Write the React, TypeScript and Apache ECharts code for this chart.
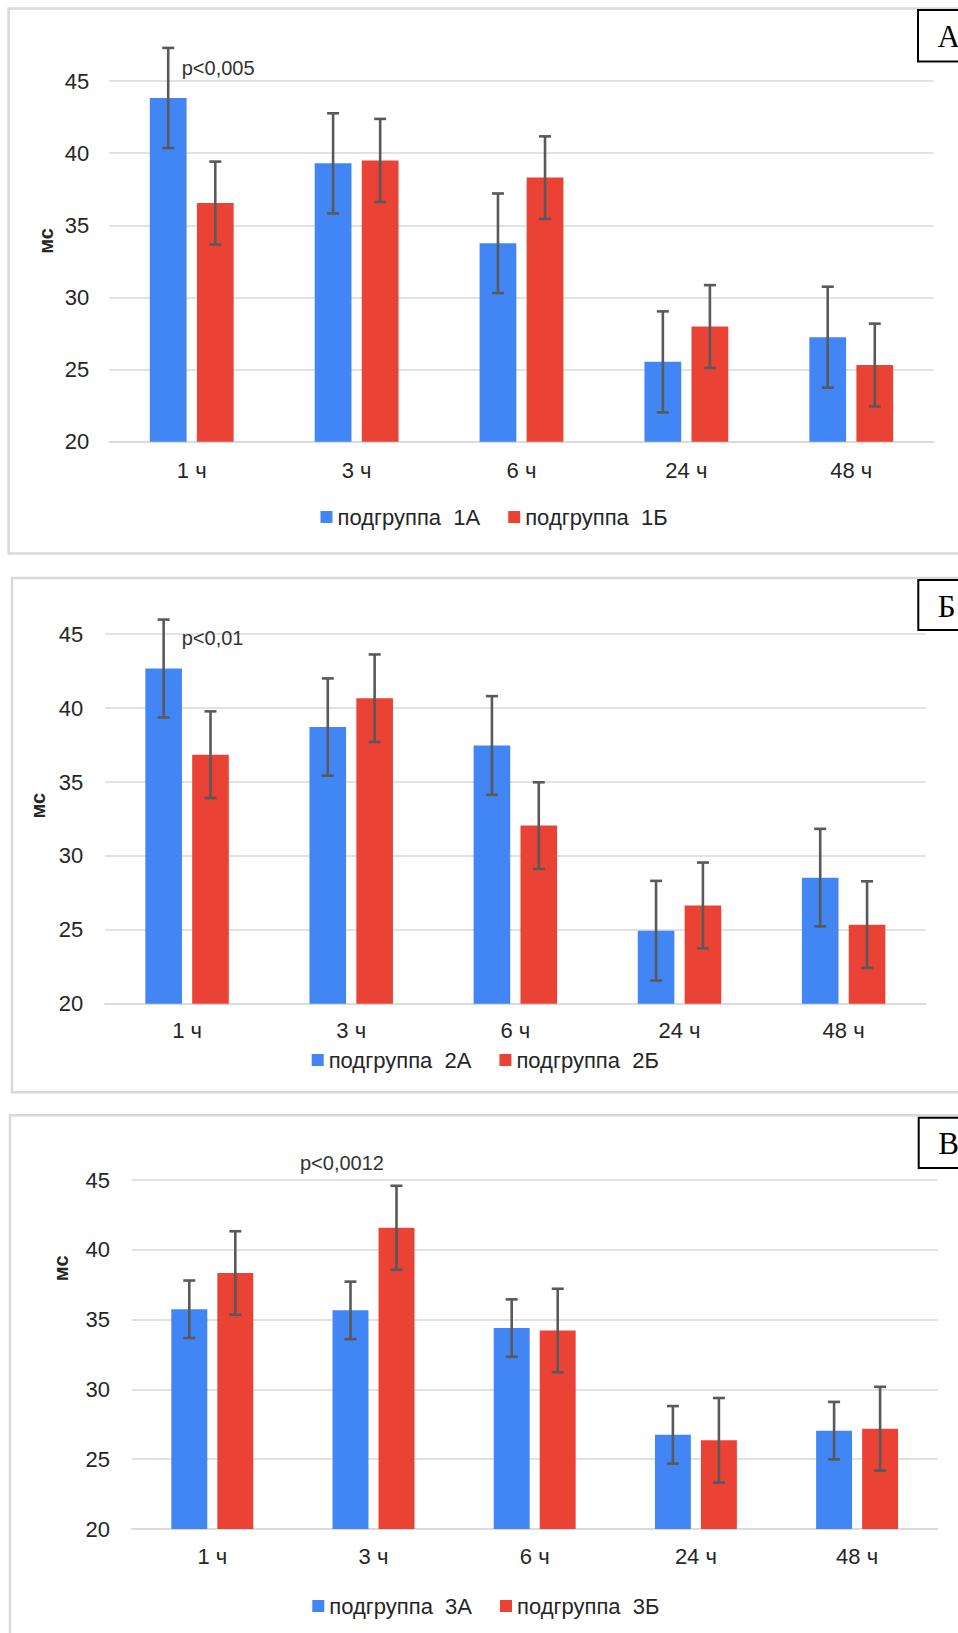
import React, { useEffect, useRef } from 'react';
import * as echarts from 'echarts';

// ---------- data ----------
const categories = ['1 ч', '3 ч', '6 ч', '24 ч', '48 ч'];
const yMin = 20;
const yMax = 45;
const yStep = 5;
const yAxisName = 'мс';

const namesA = ['подгруппа  1А', 'подгруппа  1Б'];
const meanA1 = [43.83, 39.3, 33.76, 25.54, 27.25];
const errA1 = [3.47, 3.47, 3.45, 3.5, 3.5];
const meanA2 = [36.55, 39.5, 38.31, 27.99, 25.32];
const errA2 = [2.87, 2.88, 2.86, 2.87, 2.87];

const namesB = ['подгруппа  2А', 'подгруппа  2Б'];
const meanB1 = [42.68, 38.72, 37.47, 24.94, 28.53];
const errB1 = [3.31, 3.29, 3.34, 3.37, 3.3];
const meanB2 = [36.85, 40.67, 32.05, 26.65, 25.35];
const errB2 = [2.93, 2.96, 2.93, 2.9, 2.93];

const namesC = ['подгруппа  3А', 'подгруппа  3Б'];
const meanC1 = [35.75, 35.67, 34.4, 26.75, 27.05];
const errC1 = [2.06, 2.06, 2.06, 2.06, 2.06];
const meanC2 = [38.35, 41.59, 34.23, 26.36, 27.19];
const errC2 = [2.99, 3.01, 2.99, 3.03, 3.0];

const pLabels = ['p<0,005', 'p<0,01', 'p<0,0012'];
const panelLetters = ['А', 'Б', 'В'];

// ---------- styles / layout ----------
const BLUE = '#4285F4';
const RED = '#EA4335';
const ERR = '#595959';
const GRIDC = '#d9d9d9';
const TXT = '#262626';
const FONT = '"Liberation Sans", Arial, sans-serif';
const BAR_W = 0.223;
const BAR_GAP = 0.28;

const panels = [
  {
    names: namesA, m1: meanA1, e1: errA1, m2: meanA2, e2: errA2,
    grid: { left: 109.3, right: 24.3, top: 81.1, height: 360.7 },
    yMargin: 20, xMargin: 18,
    legend: { left: 320.5, top: 506 },
    border: { x: 8.6, y: 8.6, h: 545 },
    letterBox: { x: 918, y: 10, h: 51.5 },
    msPos: [45.7, 241],
    pPos: [181.7, 68],
  },
  {
    names: namesB, m1: meanB1, e1: errB1, m2: meanB2, e2: errB2,
    grid: { left: 105, right: 32.3, top: 634.2, height: 369.5 },
    yMargin: 21.7, xMargin: 15.5,
    legend: { left: 311.7, top: 1049 },
    border: { x: 12, y: 578, h: 514.3 },
    letterBox: { x: 918.3, y: 580, h: 50 },
    msPos: [38.3, 805.6],
    pPos: [181.7, 637.6],
  },
  {
    names: namesC, m1: meanC1, e1: errC1, m2: meanC2, e2: errC2,
    grid: { left: 131.7, right: 20.3, top: 1180.2, height: 348.8 },
    yMargin: 21.7, xMargin: 16,
    legend: { left: 312.3, top: 1595 },
    border: { x: 10, y: 1115.3, h: 600 },
    letterBox: { x: 918.7, y: 1117.7, h: 50.3 },
    msPos: [61, 1268.3],
    pPos: [300, 1163],
  },
];

function errSeries(gi: number, sign: number, means: number[], errs: number[]) {
  return {
    type: 'custom',
    xAxisIndex: gi,
    yAxisIndex: gi,
    z: 10,
    silent: true,
    data: means.map((m, i) => [i, m, errs[i]]),
    encode: { x: 0, y: 1 },
    renderItem: (params: any, api: any) => {
      const i = api.value(0);
      const m = api.value(1);
      const e = api.value(2);
      const band = api.size([1, 0])[0];
      const bw = band * BAR_W;
      const gap = bw * BAR_GAP;
      const dx = (sign * (bw + gap)) / 2;
      const top = api.coord([i, m + e]);
      const bot = api.coord([i, m - e]);
      const x = top[0] + dx;
      const cap = 6;
      const style = { stroke: ERR, lineWidth: 2.6 };
      return {
        type: 'group',
        children: [
          { type: 'line', shape: { x1: x, y1: top[1], x2: x, y2: bot[1] }, style },
          { type: 'line', shape: { x1: x - cap, y1: top[1], x2: x + cap, y2: top[1] }, style },
          { type: 'line', shape: { x1: x - cap, y1: bot[1], x2: x + cap, y2: bot[1] }, style },
        ],
      };
    },
  };
}

function buildOption() {
  const grid: any[] = [];
  const xAxis: any[] = [];
  const yAxis: any[] = [];
  const series: any[] = [];
  const legend: any[] = [];
  const graphic: any[] = [];

  panels.forEach((p, gi) => {
    // panel border
    graphic.push({
      type: 'rect',
      z: -10,
      silent: true,
      shape: { x: p.border.x, y: p.border.y, width: 1100, height: p.border.h },
      style: { fill: 'none', stroke: GRIDC, lineWidth: 2.5 },
    });
    // letter box
    graphic.push({
      type: 'rect',
      z: 50,
      silent: true,
      shape: { x: p.letterBox.x, y: p.letterBox.y, width: 100, height: p.letterBox.h },
      style: { fill: '#fff', stroke: '#000', lineWidth: 2 },
    });
    graphic.push({
      type: 'text',
      z: 51,
      silent: true,
      x: p.letterBox.x + 19.5,
      y: p.letterBox.y + p.letterBox.h / 2 + 1,
      style: {
        text: panelLetters[gi],
        font: '31px "Liberation Serif", "Times New Roman", serif',
        fill: '#000',
        align: 'left',
        verticalAlign: 'middle',
      },
    });
    // y axis title
    graphic.push({
      type: 'text',
      z: 20,
      silent: true,
      x: p.msPos[0],
      y: p.msPos[1],
      rotation: Math.PI / 2,
      style: {
        text: yAxisName,
        font: 'bold 20px ' + FONT,
        fill: TXT,
        align: 'center',
        verticalAlign: 'middle',
      },
    });
    // p-value annotation
    graphic.push({
      type: 'text',
      z: 20,
      silent: true,
      x: p.pPos[0],
      y: p.pPos[1],
      style: {
        text: pLabels[gi],
        font: '20px ' + FONT,
        fill: '#333',
        align: 'left',
        verticalAlign: 'middle',
      },
    });

    grid.push({
      left: p.grid.left,
      right: p.grid.right,
      top: p.grid.top,
      height: p.grid.height,
      containLabel: false,
      outerBoundsMode: 'none',
    });
    xAxis.push({
      type: 'category',
      gridIndex: gi,
      data: categories,
      axisTick: { show: false },
      axisLine: { show: true, lineStyle: { color: GRIDC, width: 1.6 } },
      axisLabel: {
        margin: p.xMargin,
        color: TXT,
        fontSize: 22,
        fontFamily: FONT,
        lineHeight: 22,
      },
      splitLine: { show: false },
    });
    yAxis.push({
      type: 'value',
      gridIndex: gi,
      min: yMin,
      max: yMax,
      interval: yStep,
      axisLine: { show: false },
      axisTick: { show: false },
      axisLabel: {
        margin: p.yMargin,
        color: TXT,
        fontSize: 22,
        fontFamily: FONT,
      },
      splitLine: { show: true, lineStyle: { color: GRIDC, width: 1.6 } },
    });
    series.push({
      type: 'bar',
      name: p.names[0],
      xAxisIndex: gi,
      yAxisIndex: gi,
      data: p.m1,
      barWidth: (BAR_W * 100).toFixed(1) + '%',
      barGap: BAR_GAP * 100 + '%',
      itemStyle: { color: BLUE },
      silent: true,
    });
    series.push({
      type: 'bar',
      name: p.names[1],
      xAxisIndex: gi,
      yAxisIndex: gi,
      data: p.m2,
      barWidth: (BAR_W * 100).toFixed(1) + '%',
      barGap: BAR_GAP * 100 + '%',
      itemStyle: { color: RED },
      silent: true,
    });
    series.push(errSeries(gi, -1, p.m1, p.e1));
    series.push(errSeries(gi, 1, p.m2, p.e2));

    legend.push({
      data: p.names,
      left: p.legend.left,
      top: p.legend.top,
      padding: 0,
      itemWidth: 12,
      itemHeight: 12,
      itemGap: 28,
      icon: 'rect',
      selectedMode: false,
      textStyle: { fontSize: 22, color: TXT, fontFamily: FONT, lineHeight: 22 },
    });
  });

  return {
    animation: false,
    backgroundColor: '#fff',
    textStyle: { fontFamily: FONT },
    grid,
    xAxis,
    yAxis,
    series,
    legend,
    graphic,
  };
}

export default function App() {
  const ref = useRef<HTMLDivElement>(null);
  useEffect(() => {
    if (!ref.current) return;
    const chart = echarts.init(ref.current, undefined, { renderer: 'svg' });
    chart.setOption(buildOption() as any);
    return () => chart.dispose();
  }, []);
  return (
    <div
      ref={ref}
      style={{ position: 'absolute', left: 0, top: 0, width: 958, height: 1633 }}
    />
  );
}
